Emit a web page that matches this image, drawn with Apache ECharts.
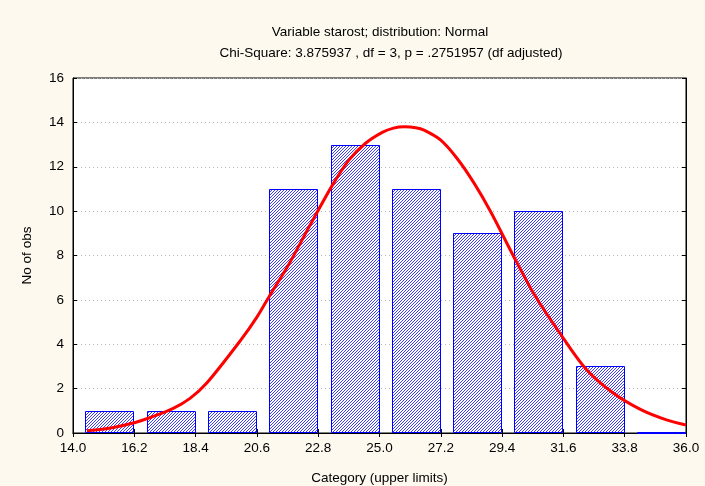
<!DOCTYPE html>
<html>
<head>
<meta charset="utf-8">
<script src="https://cdn.jsdelivr.net/npm/echarts@6/dist/echarts.min.js"></script>
<style>
  html, body { margin: 0; padding: 0; background: #fdf9ef; }
  #chart { width: 705px; height: 486px; }
</style>
</head>
<body>
<div id="chart"></div>
<script>
// ---- data ----
const titleLine1 = 'Variable starost; distribution: Normal';
const titleLine2 = 'Chi-Square: 3.875937 , df = 3, p = .2751957 (df adjusted)';
const xAxisName = 'Category (upper limits)';
const yAxisName = 'No of obs';

const upperLimits = [16.2, 18.4, 20.6, 22.8, 25.0, 27.2, 29.4, 31.6, 33.8, 36.0];
const counts      = [1, 1, 1, 11, 13, 11, 9, 10, 3, 0];

// expected normal curve
const curveX = [14.5, 15.4, 16.2, 16.8, 17.6, 18.2, 18.8, 20.0, 20.6, 21.1, 21.7, 22.5, 23.3, 23.9, 24.5, 25.1, 25.5, 25.9, 26.3, 26.6, 27.2, 27.8, 28.4, 29.0, 29.9, 30.6, 31.5, 32.4, 33.4, 34.4, 35.3, 36.0];
const curveY = [0.10, 0.24, 0.46, 0.71, 1.11, 1.56, 2.25, 4.15, 5.22, 6.28, 7.50, 9.35, 11.15, 12.30, 13.06, 13.55, 13.74, 13.80, 13.76, 13.65, 13.20, 12.35, 11.25, 9.95, 7.75, 6.15, 4.45, 2.90, 1.79, 1.04, 0.59, 0.36];

const xMin = 14.0, xMax = 36.0, xStep = 2.2;
const yMin = 0, yMax = 16, yStep = 2;

// ---- build ----
const barData = upperLimits.map((u, i) => [u, counts[i]]);
const curveData = curveX.map((x, i) => [x, curveY[i]]);
const binWidth = upperLimits[1] - upperLimits[0];

// hatch pattern
const pc = document.createElement('canvas');
pc.width = 3; pc.height = 3;
const pctx = pc.getContext('2d');
pctx.fillStyle = '#ffffff';
pctx.fillRect(0, 0, 3, 3);
pctx.fillStyle = '#3c3cff';
for (let x = 0; x < 3; x++) {
  for (let y = 0; y < 3; y++) {
    if ((x + y) % 3 === 2) pctx.fillRect(x, y, 1, 1);
  }
}
const hatch = { image: pc, repeat: 'repeat' };

const font = '"Liberation Sans", Arial, sans-serif';
const fs = 13.5;

const chart = echarts.init(document.getElementById('chart'), null, { renderer: 'canvas' });
chart.setOption({
  backgroundColor: '#fdf9ef',
  animation: false,
  textStyle: { fontFamily: font },
  title: [
    { text: titleLine1, left: 375, top: 20, textAlign: 'center',
      textStyle: { fontSize: fs, fontWeight: 'normal', color: '#000', fontFamily: font } },
    { text: titleLine2, left: 386, top: 41, textAlign: 'center',
      textStyle: { fontSize: fs, fontWeight: 'normal', color: '#000', fontFamily: font } }
  ],
  grid: {
    left: 73, right: 19, top: 78, bottom: 53,
    outerBoundsMode: 'none', containLabel: false,
    show: true, backgroundColor: '#ffffff', borderColor: '#000', borderWidth: 1
  },
  xAxis: [
    {
      type: 'value', min: xMin, max: xMax, interval: xStep, position: 'bottom',
      name: xAxisName, nameLocation: 'middle', nameGap: 38,
      nameTextStyle: { fontSize: fs, color: '#000', fontFamily: font },
      axisLine: { show: true, lineStyle: { color: '#000', width: 1 } },
      axisTick: { show: true, inside: true, length: 4, lineStyle: { color: '#000' } },
      axisLabel: { fontSize: fs, color: '#000', margin: 8, fontFamily: font,
        formatter: v => v.toFixed(1) },
      splitLine: { show: false }
    },
    {
      type: 'value', min: xMin, max: xMax, interval: xStep, position: 'top',
      axisLine: { show: true, lineStyle: { color: '#000', width: 1 } },
      axisTick: { show: true, inside: true, length: 4, lineStyle: { color: '#000' } },
      axisLabel: { show: false },
      splitLine: { show: false }
    }
  ],
  yAxis: [
    {
      type: 'value', min: yMin, max: yMax, interval: yStep, position: 'left',
      name: yAxisName, nameLocation: 'middle', nameGap: 39,
      nameTextStyle: { fontSize: fs, color: '#000', fontFamily: font },
      axisLine: { show: true, lineStyle: { color: '#000', width: 1 } },
      axisTick: { show: true, inside: true, length: 4, lineStyle: { color: '#000' } },
      axisLabel: { fontSize: fs, color: '#000', margin: 9, fontFamily: font },
      splitLine: { show: true, lineStyle: { color: '#b8b8b8', type: [1, 3], width: 1 } }
    },
    {
      type: 'value', min: yMin, max: yMax, interval: yStep, position: 'right',
      axisLine: { show: true, lineStyle: { color: '#000', width: 1 } },
      axisTick: { show: true, inside: true, length: 4, lineStyle: { color: '#000' } },
      axisLabel: { show: false },
      splitLine: { show: false }
    }
  ],
  series: [
    {
      type: 'custom',
      xAxisIndex: 0, yAxisIndex: 0,
      data: barData,
      renderItem: function (params, api) {
        const upper = api.value(0);
        const v = api.value(1);
        const base = api.coord([upper, 0]);
        const top = api.coord([upper, v]);
        const binPx = api.size([binWidth, 0])[0];
        const w = Math.round(binPx * 0.785);
        const right = Math.round(base[0]) - 0.5;
        const yb = Math.round(base[1]) - 0.5;
        const yt = Math.round(top[1]) + 0.5;
        return {
          type: 'rect',
          shape: { x: right - w, y: Math.min(yt, yb), width: w, height: Math.abs(yb - yt) },
          style: { fill: hatch, stroke: '#0000ff', lineWidth: 1 }
        };
      },
      z: 2
    },
    {
      type: 'line',
      xAxisIndex: 0, yAxisIndex: 0,
      data: curveData,
      smooth: 0.3,
      showSymbol: false,
      symbol: 'none',
      lineStyle: { color: '#ff0000', width: 3 },
      z: 3
    }
  ]
});
</script>
</body>
</html>
